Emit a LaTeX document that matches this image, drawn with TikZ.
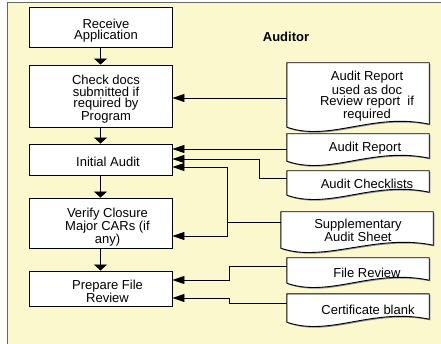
\documentclass[tikz,border=0pt]{standalone}
\usepackage{fontspec}
\setmainfont{Liberation Sans}
\usetikzlibrary{arrows.meta,shadows}
\definecolor{paper}{RGB}{252,248,206}

% document (wavy-bottom) outline around a named placeholder node
\newcommand\docsheet[1]{%
  \filldraw[sheet] (#1.north west) -- (#1.north east) -- ([yshift=3pt]#1.south east)
    .. controls ([xshift=-57pt,yshift=15pt]#1.south east)
           and ([xshift=43pt,yshift=-15pt]#1.south west) .. (#1.south west) -- cycle;}

\begin{document}
\begin{tikzpicture}[x=1pt,y=-1pt,
  stepbox/.style={draw=black, fill=white, line width=0.9pt, rectangle, inner sep=0pt},
  docbox/.style={rectangle, inner sep=0pt, draw=none},
  sheet/.style={fill=white, draw=black, line width=0.9pt,
    drop shadow={shadow xshift=1.2pt, shadow yshift=-1.2pt, fill=black!45, opacity=1}},
  txt/.style={font=\fontsize{13}{11.5}\selectfont, align=center, inner sep=0pt},
  flow/.style={line width=0.9pt, -{Triangle[length=6pt,width=13pt]}},
  feed/.style={line width=0.9pt, -{Triangle[length=12pt,width=8pt]}},
  link/.style={line width=0.9pt}]

\useasboundingbox (0,0) rectangle (441,344);

% lane background
\fill[paper] (7.5,3) rectangle (441,344);
\draw[black!60, line width=1pt] (7.5,344) -- (7.5,3) -- (441,3);

\node[txt, font=\fontsize{13}{11.5}\selectfont\bfseries] (lane) at (286,37) {Auditor};

% process steps
\node[stepbox, minimum width=143pt, minimum height=40pt] (recv)   at (100.5,27)    {};
\node[stepbox, minimum width=143pt, minimum height=62pt] (check)  at (100.5,96)    {};
\node[stepbox, minimum width=143pt, minimum height=31pt] (init)   at (100.5,159.5) {};
\node[stepbox, minimum width=143pt, minimum height=50pt] (verify) at (100.5,223)   {};
\node[stepbox, minimum width=143pt, minimum height=35pt] (prep)   at (100.5,288.5) {};

\node[txt] (recv-t)   at (106,30.5)  {Receive\\Application};
\node[txt] (check-t)  at (106,99)    {Check docs\\submitted if\\required by\\Program};
\node[txt] (init-t)   at (108,162)   {Initial Audit};
\node[txt] (verify-t) at (107.5,227) {Verify Closure\\Major CARs (if\\any)};
\node[txt] (prep-t)   at (107.5,291.5) {Prepare File\\Review};

% documents
\node[docbox, minimum width=142pt, minimum height=64pt] (d1) at (358,95)    {};
\node[docbox, minimum width=142pt, minimum height=27pt] (d2) at (358,147.5) {};
\node[docbox, minimum width=142pt, minimum height=24pt] (d3) at (358,183)   {};
\node[docbox, minimum width=152pt, minimum height=36pt] (d4) at (357,230)   {};
\node[docbox, minimum width=142pt, minimum height=25pt] (d5) at (358,270.5) {};
\node[docbox, minimum width=142pt, minimum height=28pt] (d6) at (358,308)   {};

\docsheet{d1}\docsheet{d2}\docsheet{d3}\docsheet{d4}\docsheet{d5}\docsheet{d6}

\node[txt] (d1-t) at (367,96.5) {Audit Report\\used as doc\\Review report~ if\\required};
\node[txt] (d2-t) at (365,148)  {Audit Report};
\node[txt] (d3-t) at (367,184)  {Audit Checklists};
\node[txt] (d4-t) at (358,230.5) {Supplementary\\Audit Sheet};
\node[txt] (d5-t) at (367,273)  {File Review};
\node[txt] (d6-t) at (368,310)  {Certificate blank};

% main flow
\draw[flow] (recv) -- (check);
\draw[flow] (check) -- (init);
\draw[flow] (init) -- (verify);
\draw[flow] (verify) -- (prep);

% document inputs
\draw[feed] (d1.west |- 0,98) -- (check.east |- 0,98);
\draw[feed] (d2.west |- 0,149) -- (init.east |- 0,149);
\draw[feed] (d3.west |- 0,178) -| (259,159) -- (init.east |- 0,159);
\coordinate (j4) at (227,222);
\draw[link] (d4.west |- j4) -- (j4);
\draw[feed] (j4) |- (init.east |- 0,167);
\draw[feed] (j4) |- (verify.east |- 0,236);
\draw[feed] (d5.west |- 0,266) -| (229,280) -- (prep.east |- 0,280);
\draw[feed] (d6.west |- 0,303) -| (229,298) -- (prep.east |- 0,298);

\end{tikzpicture}
\end{document}
